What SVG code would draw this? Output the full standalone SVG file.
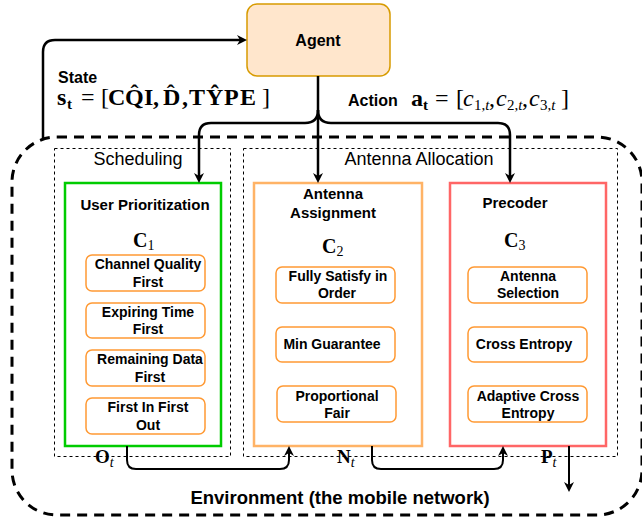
<svg xmlns="http://www.w3.org/2000/svg" width="642" height="517" viewBox="0 0 642 517">
<style>
.sans{font-family:"Liberation Sans",Arial,sans-serif}
.b{font-weight:bold}
.serif{font-family:"Liberation Serif","Times New Roman",serif}
.lbl{font-family:"Liberation Sans",Arial,sans-serif;font-weight:bold;font-size:14px;text-anchor:middle;fill:#000}
.title{font-family:"Liberation Sans",Arial,sans-serif;font-weight:bold;font-size:15px;text-anchor:middle;fill:#000}
.opt{fill:#fff;stroke:#FF9933;stroke-width:1.5}
.dot{fill:none;stroke:#000;stroke-width:1;stroke-dasharray:3 3}
.conn{fill:none;stroke:#000;stroke-width:2.5;marker-end:url(#ah)}
.conn2{fill:none;stroke:#000;stroke-width:2;marker-end:url(#ah)}
</style>
<defs>
<marker id="ah" markerUnits="userSpaceOnUse" markerWidth="12" markerHeight="12" refX="6" refY="5" orient="auto">
<path d="M0,0 L10,5 L0,10 L3,5 z" fill="#000"/>
</marker>
</defs>
<rect width="642" height="517" fill="#fff"/>

<g id="environment">
<rect x="12" y="137" width="630" height="378" rx="45" ry="45" fill="none" stroke="#000" stroke-width="3" stroke-dasharray="10 7"/>
<text class="sans b" x="340" y="504" font-size="18.5" text-anchor="middle">Environment (the mobile network)</text>
</g>

<g id="scheduling">
<rect class="dot" x="54.5" y="148.5" width="176" height="308"/>
<text class="sans" x="138" y="165" font-size="18" text-anchor="middle">Scheduling</text>
</g>
<g id="antenna-allocation">
<rect class="dot" x="243.5" y="148.5" width="374" height="308"/>
<text class="sans" x="419" y="165" font-size="18" text-anchor="middle">Antenna Allocation</text>
</g>

<g id="agent">
<rect x="247" y="4" width="143" height="72" rx="10" ry="10" fill="#FFE6CC" stroke="#D79B00" stroke-width="1.5"/>
<text class="sans b" x="318" y="46" font-size="16" text-anchor="middle">Agent</text>
</g>

<g id="user-prioritization">
<rect x="65" y="183" width="156" height="263" fill="#fff" stroke="#00CC00" stroke-width="2.5"/>
<text class="title" x="145" y="210">User Prioritization</text>
<text class="serif b" x="133" y="247" font-size="20">C<tspan font-size="14" font-weight="normal" dy="3">1</tspan></text>
<rect class="opt" x="86" y="255" width="119" height="36" rx="6"/>
<text class="lbl" x="148" y="269">Channel Quality</text>
<text class="lbl" x="148" y="287">First</text>
<rect class="opt" x="86" y="303" width="119" height="35" rx="6"/>
<text class="lbl" x="148" y="317">Expiring Time</text>
<text class="lbl" x="148" y="334">First</text>
<rect class="opt" x="86" y="350" width="119" height="36" rx="6"/>
<text class="lbl" x="150" y="364">Remaining Data</text>
<text class="lbl" x="150" y="382">First</text>
<rect class="opt" x="86" y="398" width="119" height="36" rx="6"/>
<text class="lbl" x="148" y="412">First In First</text>
<text class="lbl" x="148" y="430">Out</text>
</g>

<g id="antenna-assignment">
<rect x="254" y="183" width="168" height="263" fill="#fff" stroke="#FFB366" stroke-width="2.5"/>
<text class="title" x="333" y="199">Antenna</text>
<text class="title" x="333" y="218">Assignment</text>
<text class="serif b" x="322" y="253" font-size="20">C<tspan font-size="14" font-weight="normal" dy="3">2</tspan></text>
<rect class="opt" x="276" y="267" width="119" height="36" rx="6"/>
<text class="lbl" x="338" y="281">Fully Satisfy in</text>
<text class="lbl" x="337" y="298">Order</text>
<rect class="opt" x="276" y="327" width="119" height="35" rx="6"/>
<text class="lbl" x="332" y="349">Min Guarantee</text>
<rect class="opt" x="277" y="386" width="119" height="36" rx="6"/>
<text class="lbl" x="337" y="401">Proportional</text>
<text class="lbl" x="337" y="418">Fair</text>
</g>

<g id="precoder">
<rect x="450" y="183" width="156" height="263" fill="#fff" stroke="#FF6666" stroke-width="2.5"/>
<text class="title" x="515" y="208">Precoder</text>
<text class="serif b" x="504" y="247" font-size="20">C<tspan font-size="14" font-weight="normal" dy="3">3</tspan></text>
<rect class="opt" x="468" y="267" width="119" height="36" rx="6"/>
<text class="lbl" x="528" y="281">Antenna</text>
<text class="lbl" x="528" y="298">Selection</text>
<rect class="opt" x="468" y="327" width="119" height="35" rx="6"/>
<text class="lbl" x="524" y="349">Cross Entropy</text>
<rect class="opt" x="468" y="386" width="119" height="36" rx="6"/>
<text class="lbl" x="528" y="401">Adaptive Cross</text>
<text class="lbl" x="528" y="418">Entropy</text>
</g>

<g id="connectors">
<path class="conn" d="M43,140 V52 Q43,40 55,40 H243"/>
<path class="conn" d="M318,76 V179"/>
<path class="conn" d="M318,110 Q318,123 305,123 H211 Q199,123 199,135 V179"/>
<path class="conn" d="M318,110 Q318,123 331,123 H498 Q510,123 510,135 V179"/>
<path class="conn2" d="M127,446 V460 Q127,469 136,469 H280 Q289,469 289,460 V450"/>
<path class="conn2" d="M372,446 V460 Q372,469 381,469 H494 Q503,469 503,460 V450"/>
<path class="conn2" d="M569,446 V488"/>
</g>

<g id="labels">
<text class="sans b" x="58" y="83" font-size="16">State</text>
<text class="serif" y="105" font-size="24"><tspan x="57" font-weight="bold">s</tspan><tspan x="67" dy="4" font-size="15" font-weight="bold">t</tspan><tspan x="81" dy="-4">=</tspan><tspan x="101">[</tspan><tspan x="108" font-weight="bold">C</tspan><tspan x="125" font-weight="bold">Q̂</tspan><tspan x="144" font-weight="bold">I</tspan><tspan x="153" font-weight="bold">,</tspan><tspan x="163" font-weight="bold">D̂</tspan><tspan x="182" font-weight="bold">,</tspan><tspan x="189" font-weight="bold">T</tspan><tspan x="206" font-weight="bold">Ŷ</tspan><tspan x="224" font-weight="bold">P</tspan><tspan x="240" font-weight="bold">E</tspan><tspan x="262">]</tspan></text>

<text class="sans b" x="348" y="106" font-size="16">Action</text>
<text class="serif" y="106" font-size="24"><tspan x="411" font-weight="bold">a</tspan><tspan x="423" dy="4" font-size="15" font-weight="bold">t</tspan><tspan x="435" dy="-4">=</tspan><tspan x="456">[</tspan><tspan x="463" font-style="italic">c</tspan><tspan x="474" dy="4" font-size="15">1,<tspan font-style="italic">t</tspan></tspan><tspan x="489" dy="-4">,</tspan><tspan x="496" font-style="italic">c</tspan><tspan x="507" dy="4" font-size="15">2,<tspan font-style="italic">t</tspan></tspan><tspan x="522" dy="-4">,</tspan><tspan x="529" font-style="italic">c</tspan><tspan x="540" dy="4" font-size="15">3,<tspan font-style="italic">t</tspan></tspan><tspan x="561" dy="-4">]</tspan></text>

<text class="serif b" x="95" y="463" font-size="19">O<tspan font-weight="normal" font-style="italic" font-size="14" dy="4">t</tspan></text>
<text class="serif b" x="337" y="463" font-size="19">N<tspan font-weight="normal" font-style="italic" font-size="14" dy="4">t</tspan></text>
<text class="serif b" x="541" y="463" font-size="19">P<tspan font-weight="normal" font-style="italic" font-size="14" dy="4">t</tspan></text>
</g>
</svg>
